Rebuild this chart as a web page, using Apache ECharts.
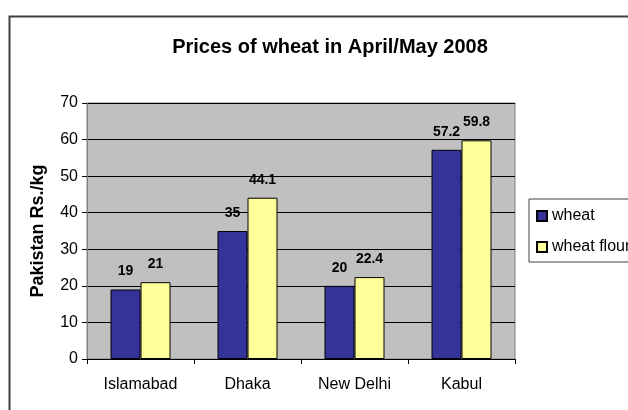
<!DOCTYPE html>
<html>
<head>
<meta charset="utf-8">
<script src="https://cdn.jsdelivr.net/npm/echarts@6/dist/echarts.min.js"></script>
<style>
  html, body { margin: 0; padding: 0; background: #fff; }
  #chart { width: 628px; height: 410px; }
</style>
</head>
<body>
<div id="chart"></div>
<script>
var cities = ['Islamabad', 'Dhaka', 'New Delhi', 'Kabul'];
var wheat = [19, 35, 20, 57.2];
var wheatFlour = [21, 44.1, 22.4, 59.8];

var chart = echarts.init(document.getElementById('chart'));
var font = '"Liberation Sans", Arial, sans-serif';

var option = {
    animation: false,
    textStyle: { fontFamily: font },
    graphic: [{
        type: 'rect',
        left: 7, top: 14,
        shape: { width: 700, height: 500 },
        style: { fill: 'none', stroke: '#404040', lineWidth: 2 }
    }],
    title: {
        text: 'Prices of wheat in April/May 2008',
        left: 325, top: 32, textAlign: 'center',
        textStyle: { fontFamily: font, fontSize: 20, fontWeight: 'bold', color: '#000' }
    },
    legend: {
        orient: 'vertical',
        left: 529, top: 199,
        padding: [9, 6, 7, 7],
        icon: 'rect',
        itemWidth: 10, itemHeight: 10, itemGap: 15,
        borderColor: '#404040', borderWidth: 1,
        textStyle: { fontFamily: font, fontSize: 16, color: '#000', padding: [0, 0, 0, 0] },
        data: ['wheat', 'wheat flour']
    },
    grid: {
        left: 87, top: 103, right: 113, bottom: 51,
        show: true, backgroundColor: '#C0C0C0', borderColor: '#808080', borderWidth: 1
    },
    xAxis: {
        type: 'category',
        data: cities,
        axisLine: { lineStyle: { color: '#000' } },
        axisTick: { show: true, length: 5, lineStyle: { color: '#000' } },
        axisLabel: { fontFamily: font, fontSize: 16, color: '#000', margin: 18 }
    },
    yAxis: {
        type: 'value',
        min: 0, max: 70, interval: 10,
        name: 'Pakistan Rs./kg',
        nameLocation: 'middle',
        nameGap: 40,
        nameTextStyle: { fontFamily: font, fontSize: 18, fontWeight: 'bold', color: '#000' },
        axisLine: { show: true, lineStyle: { color: '#808080' } },
        axisTick: { show: true, length: 5, lineStyle: { color: '#000' } },
        axisLabel: { fontFamily: font, fontSize: 16, color: '#000', margin: 9 },
        splitLine: { lineStyle: { color: '#000', width: 1 } }
    },
    series: [{
        name: 'wheat',
        type: 'bar',
        data: wheat,
        barWidth: 30,
        barGap: '0%',
        itemStyle: { color: '#333399', borderColor: '#000', borderWidth: 1 },
        label: { show: true, position: 'top', distance: 11, fontFamily: font, fontSize: 14, fontWeight: 'bold', color: '#000' }
    }, {
        name: 'wheat flour',
        type: 'bar',
        data: wheatFlour,
        barWidth: 30,
        itemStyle: { color: '#FFFF99', borderColor: '#000', borderWidth: 1 },
        label: { show: true, position: 'top', distance: 11, fontFamily: font, fontSize: 14, fontWeight: 'bold', color: '#000' }
    }]
};
chart.setOption(option);
</script>
</body>
</html>
